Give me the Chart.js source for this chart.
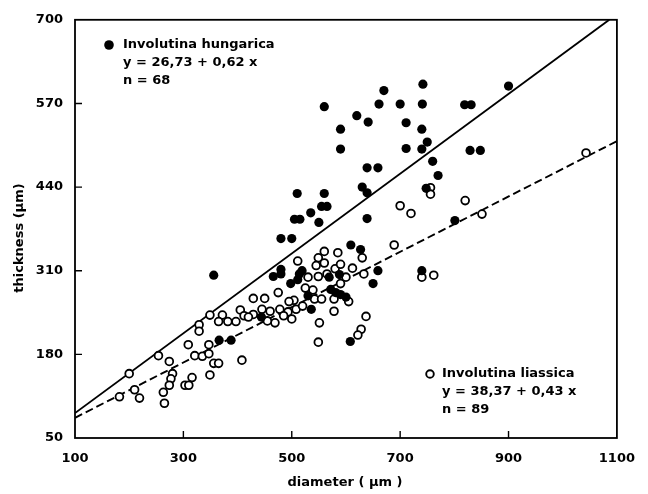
<!DOCTYPE html>
<html><head><meta charset="utf-8">
<script src="https://cdn.jsdelivr.net/npm/chart.js@4/dist/chart.umd.min.js"></script>
<style>html,body{margin:0;padding:0;background:#fff}</style>
</head><body>
<canvas id="c" width="648" height="494" style="width:648px;height:494px;display:block"></canvas>
<script>
const xTicks = [100, 300, 500, 700, 900, 1100];
const yTicks = [50, 180, 310, 440, 570, 700];

// Involutina hungarica (filled circles): diameter, thickness
const hungDiameter = [670,742,661,700,741,819,831,900,620,641,711,740,590,590,711,740,750,829,848,760,639,659,770,630,639,748,639,801,609,627,659,740,588,
356,466,480,480,498,511,366,388,444,
514,519,569,650,530,572,581,590,600,536,608,
480,500,505,515,510,535,550,555,565,560,560];
const hungThickness = [590,600,569,569,569,568,568,597,551,541,540,530,530,499,500,499,510,497,497,480,470,470,458,440,431,438,391,388,350,343,310,310,304,
303,301,312,305,290,296,202,202,238,
305,310,300,290,271,281,276,273,269,250,200,
360,360,390,390,430,400,385,410,410,430,565];

// Involutina liassica (open circles): diameter, thickness
const liasDiameter = [756,756,700,720,820,851,689,612,633,585,630,740,762,1043,
511,475,429,450,504,349,372,405,429,460,478,493,508,365,382,397,412,469,329,329,309,347,254,321,335,347,274,356,365,408,200,280,277,349,316,303,310,274,182,210,219,263,265,
549,560,580,549,539,542,555,578,578,551,549,637,628,622,
525,590,600,565,495,530,545,605,445,420,455,485,590,560,520,500];
const liasThickness = [439,429,411,399,419,398,350,314,305,338,330,300,303,493,
325,276,267,267,264,241,241,249,242,247,250,246,250,231,231,231,240,229,226,216,195,195,178,178,177,181,169,166,166,171,150,150,142,148,144,132,132,132,114,125,112,121,104,
330,322,313,301,280,266,266,266,247,229,199,239,219,210,
283,290,300,305,262,300,318,262,250,238,232,240,320,340,255,235];

// regression lines  y = a + b x
const hungFit = {a: 26.73, b: 0.62, label: 'y = 26,73 + 0,62 x', n: 'n = 68'};
const liasFit = {a: 38.37, b: 0.43, label: 'y = 38,37 + 0,43 x', n: 'n = 89'};

const FONT = '"DejaVu Sans", sans-serif';
const XMIN = 100, XMAX = 1100, YMIN = 50, YMAX = 700;

function pts(xs, ys){ return xs.map((x,i)=>({x:x, y:ys[i]})); }
function fitLine(f){
  let x2 = XMAX, y2 = f.a + f.b*XMAX;
  if (y2 > YMAX){ x2 = (YMAX - f.a)/f.b; y2 = YMAX; }
  return [{x:XMIN, y:f.a + f.b*XMIN}, {x:x2, y:y2}];
}

const decor = {
  id:'decor',
  afterDraw(chart){
    const ctx = chart.ctx, a = chart.chartArea;
    const xs = chart.scales.x, ys = chart.scales.y;
    ctx.save();
    ctx.strokeStyle = '#000';
    ctx.lineWidth = 1.8;
    ctx.strokeRect(a.left, a.top, a.right - a.left, a.bottom - a.top);
    ctx.lineWidth = 1.4;
    ctx.beginPath();
    xTicks.slice(1,-1).forEach(v=>{ const p = xs.getPixelForValue(v); ctx.moveTo(p, a.bottom); ctx.lineTo(p, a.bottom-7); });
    yTicks.slice(1,-1).forEach(v=>{ const p = ys.getPixelForValue(v); ctx.moveTo(a.left, p); ctx.lineTo(a.left+7, p); });
    ctx.stroke();

    ctx.fillStyle = '#000';
    ctx.font = 'bold 13px ' + FONT;
    ctx.textBaseline = 'middle';
    ctx.textAlign = 'left';
    // legend 1
    ctx.beginPath(); ctx.arc(109, 45, 4.8, 0, Math.PI*2); ctx.fill();
    ctx.fillText('Involutina hungarica', 123, 45);
    ctx.fillText(hungFit.label, 123, 63);
    ctx.fillText(hungFit.n, 123, 81);
    // legend 2
    ctx.beginPath(); ctx.arc(430, 374, 3.8, 0, Math.PI*2); ctx.lineWidth = 1.9; ctx.stroke();
    ctx.fillText('Involutina liassica', 442, 374);
    ctx.fillText(liasFit.label, 442, 392);
    ctx.fillText(liasFit.n, 442, 410);
    // axis titles
    ctx.textAlign = 'center';
    ctx.fillText('diameter ( µm )', 345, 483);
    ctx.translate(20, 238);
    ctx.rotate(-Math.PI/2);
    ctx.fillText('thickness (µm)', 0, 0);
    ctx.restore();
  }
};

new Chart(document.getElementById('c'), {
  type: 'scatter',
  data: { datasets: [
    { label:'Involutina hungarica', data: pts(hungDiameter, hungThickness), pointRadius:4.6, pointBackgroundColor:'#000', pointBorderColor:'#000', pointBorderWidth:0 },
    { label:'Involutina liassica', data: pts(liasDiameter, liasThickness), pointRadius:3.9, pointBackgroundColor:'#fff', pointBorderColor:'#000', pointBorderWidth:1.8 },
    { label:'fit hungarica', data: fitLine(hungFit), showLine:true, pointRadius:0, borderColor:'#000', borderWidth:1.9, fill:false },
    { label:'fit liassica', data: fitLine(liasFit), showLine:true, pointRadius:0, borderColor:'#000', borderWidth:1.9, borderDash:[8,4], fill:false }
  ]},
  options: {
    responsive:false, animation:false, events:[],
    layout:{ padding:{ top:17, right:26, left:0, bottom:0 } },
    plugins:{ legend:{display:false}, tooltip:{enabled:false} },
    scales:{
      x:{ type:'linear', min:XMIN, max:XMAX,
          afterBuildTicks:s=>{ s.ticks = xTicks.map(v=>({value:v})); },
          grid:{display:false, drawTicks:false}, border:{display:false},
          ticks:{ padding:13, color:'#000', font:{family:FONT, size:13, weight:'bold'}, maxRotation:0, autoSkip:false, callback:v=>String(v) },
          afterFit:s=>{ s.height = 56; } },
      y:{ type:'linear', min:YMIN, max:YMAX,
          afterBuildTicks:s=>{ s.ticks = yTicks.map(v=>({value:v})); },
          grid:{display:false, drawTicks:false}, border:{display:false},
          ticks:{ padding:12, color:'#000', font:{family:FONT, size:13, weight:'bold'}, autoSkip:false, callback:v=>String(v) },
          afterFit:s=>{ s.width = 75; } }
    }
  },
  plugins:[decor]
});
</script>
</body></html>
